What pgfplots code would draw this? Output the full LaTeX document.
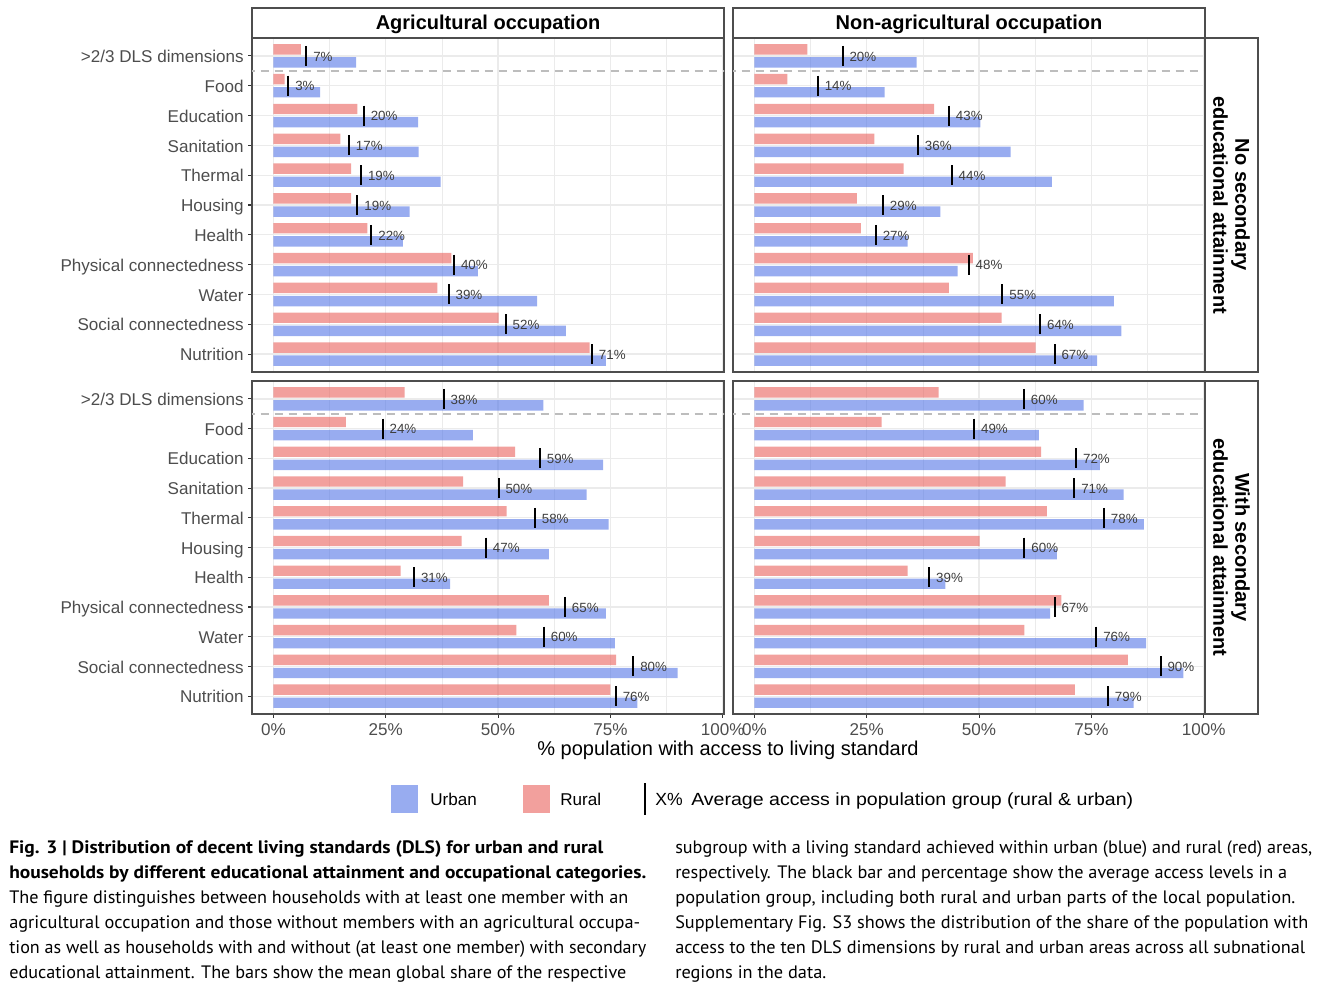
\documentclass[border=0pt]{standalone}
\usepackage{pgfplots}
\pgfplotsset{compat=1.18}
\usepackage{pgfplotstable}
\usepackage{graphicx}
\usepackage{fontspec}
\setmainfont{Liberation Sans}
\newfontfamily\capfont{PT Sans}

\definecolor{ruralc}{HTML}{E9615C}
\definecolor{urbanc}{HTML}{5375E6}
\definecolor{gridc}{HTML}{EBEBEB}
\definecolor{bordc}{HTML}{4D4D4D}
\definecolor{tickc}{HTML}{333333}
\definecolor{axgray}{HTML}{4D4D4D}
\definecolor{labc}{HTML}{3D3D3D}
\definecolor{dashc}{HTML}{BDBDBD}

% y: 1 = >2/3 DLS dimensions ... 11 = Nutrition
% agricultural, no secondary
\pgfplotstableread{
y rural urban avg lab
1 6.1 18.4 7.3 7
2 2.5 10.4 3.3 3
3 18.7 32.2 20.1 20
4 14.9 32.3 16.8 17
5 17.3 37.2 19.5 19
6 17.3 30.3 18.7 19
7 20.9 28.8 21.8 22
8 39.6 45.5 40.2 40
9 36.5 58.7 39.0 39
10 50.1 65.1 51.7 52
11 70.4 74.0 70.9 71
}\tabA
% non-agricultural, no secondary
\pgfplotstableread{
y rural urban avg lab
1 11.8 36.1 19.6 20
2 7.3 29.0 14.1 14
3 40.0 50.3 43.3 43
4 26.7 57.0 36.4 36
5 33.2 66.2 43.9 44
6 22.8 41.4 28.6 29
7 23.7 34.1 27.0 27
8 48.6 45.2 47.7 48
9 43.3 80.0 55.2 55
10 55.0 81.7 63.6 64
11 62.6 76.3 66.8 67
}\tabB
% agricultural, with secondary
\pgfplotstableread{
y rural urban avg lab
1 29.2 60.1 37.9 38
2 16.1 44.4 24.3 24
3 53.8 73.4 59.3 59
4 42.2 69.7 50.1 50
5 51.9 74.6 58.2 58
6 41.9 61.3 47.3 47
7 28.3 39.3 31.3 31
8 61.3 74.0 64.9 65
9 54.1 76.0 60.2 60
10 76.3 90.0 80.1 80
11 75.0 81.0 76.2 76
}\tabC
% non-agricultural, with secondary
\pgfplotstableread{
y rural urban avg lab
1 41.0 73.3 60.0 60
2 28.3 63.3 48.9 49
3 63.8 76.9 71.6 72
4 55.9 82.2 71.2 71
5 65.1 86.7 77.8 78
6 50.1 67.3 60.1 60
7 34.1 42.5 38.9 39
8 68.3 65.8 66.8 67
9 60.1 87.2 76.1 76
10 83.1 95.5 90.4 90
11 71.3 84.4 78.7 79
}\tabD

\pgfplotsset{
  panel/.style={
    scale only axis, width=354pt, anchor=north west,
    xmin=-4.78, xmax=100.3, ymin=0.4, ymax=11.6, y dir=reverse,
    xtick={0,25,50,75,100}, minor xtick={12.5,37.5,62.5,87.5},
    ytick={1,...,11},
    xmajorgrids, xminorgrids, ymajorgrids,
    major grid style={draw=gridc, line width=1pt},
    minor grid style={draw=gridc, line width=0.5pt},
    axis line style={draw=bordc, line width=0.8pt},
    tick align=outside, major tick length=2.75pt, minor tick length=0pt,
    tick style={draw=tickc, line width=0.8pt},
    xtick pos=bottom, ytick pos=left,
    typeset ticklabels with strut,
    tick label style={font=\fontsize{12.8}{14}\selectfont, text=axgray},
    yticklabel style={yshift=-2.2pt},
    xticklabels={0\%,25\%,50\%,75\%,100\%},
    yticklabels={>2/3 DLS dimensions,Food,Education,Sanitation,Thermal,Housing,Health,Physical connectedness,Water,Social connectedness,Nutrition},
  },
  notx/.style={xticklabels={}, xtick style={draw=none}},
  noty/.style={yticklabels={}, ytick style={draw=none}},
}

\newcommand\panelplots[1]{%
  \addplot[xbar, bar width=0.35, bar shift=-0.22, draw=none, fill=ruralc, fill opacity=0.6] table[x=rural, y=y] {#1};
  \addplot[xbar, bar width=0.35, bar shift=0.22, draw=none, fill=urbanc, fill opacity=0.6] table[x=urban, y=y] {#1};
  \addplot[dashc, dash pattern=on 6pt off 4.5pt, line width=1.2pt] coordinates {(-6,1.5) (102,1.5)};
  \addplot[only marks, mark=|, mark size=7.5pt, mark options={draw=black, line width=1.5pt},
    point meta=explicit symbolic, nodes near coords={\pgfplotspointmeta\%},
    every node near coord/.append style={anchor=west, xshift=4.5pt, yshift=-0.5pt, inner sep=0pt,
      font=\fontsize{10}{11}\selectfont, text=labc}]
    table[x=avg, y=y, meta=lab] {#1};
}

\newcommand\capline[4]{%
  \node[anchor=base west, inner sep=0pt] at (#1pt,-#2pt)
    {\capfont\fontsize{13.5}{15}\selectfont\resizebox{#3pt}{\height}{#4}};}

\begin{document}
\begin{tikzpicture}
\path[use as bounding box] (0,0) rectangle (998.25pt,-738.75pt);

\begin{axis}[panel, notx, height=250.5pt, at={(189pt,-28.5pt)}]
\panelplots{\tabA}
\end{axis}
\begin{axis}[panel, notx, noty, height=250.5pt, at={(549.75pt,-28.5pt)}]
\panelplots{\tabB}
\end{axis}
\begin{axis}[panel, height=249.75pt, at={(189pt,-285.75pt)}]
\panelplots{\tabC}
\end{axis}
\begin{axis}[panel, noty, height=249.75pt, at={(549.75pt,-285.75pt)}]
\panelplots{\tabD}
\end{axis}

% facet strips
\draw[bordc, line width=0.8pt, fill=white] (189pt,-6pt) rectangle (543pt,-28.5pt);
\draw[bordc, line width=0.8pt, fill=white] (549.75pt,-6pt) rectangle (903.75pt,-28.5pt);
\node[font=\bfseries\fontsize{15}{18}\selectfont] at (366pt,-18pt) {Agricultural occupation};
\node[font=\bfseries\fontsize{15}{18}\selectfont] at (726.75pt,-18pt) {Non-agricultural occupation};
\draw[bordc, line width=0.8pt, fill=white] (903.75pt,-28.5pt) rectangle (943.5pt,-279pt);
\draw[bordc, line width=0.8pt, fill=white] (903.75pt,-285.75pt) rectangle (943.5pt,-535.5pt);
\node[rotate=-90, align=center, font=\bfseries\fontsize{15}{16.5}\selectfont] at (923.6pt,-153.75pt) {No secondary\\educational attainment};
\node[rotate=-90, align=center, font=\bfseries\fontsize{15}{16.5}\selectfont] at (923.6pt,-410.6pt) {With secondary\\educational attainment};

% axis title
\node[font=\fontsize{15}{18}\selectfont] at (546pt,-562.5pt) {\% population with access to living standard};

% legend
\fill[urbanc, fill opacity=0.6] (293.25pt,-588.75pt) rectangle (313.5pt,-609.75pt);
\node[anchor=base west, inner sep=0pt, font=\fontsize{12.8}{15}\selectfont] at (322.5pt,-603.75pt) {Urban};
\fill[ruralc, fill opacity=0.6] (392.25pt,-588.75pt) rectangle (412.5pt,-609.75pt);
\node[anchor=base west, inner sep=0pt, font=\fontsize{12.8}{15}\selectfont] at (420pt,-603.75pt) {Rural};
\draw[black, line width=1.3pt] (483.75pt,-587.25pt) -- (483.75pt,-611.25pt);
\node[anchor=base west, inner sep=0pt, font=\fontsize{13.2}{15}\selectfont] at (491.25pt,-603.75pt) {X\%};
\node[anchor=base west, inner sep=0pt, font=\fontsize{13.2}{15}\selectfont] at (518.25pt,-603.75pt)
  {\resizebox{331.5pt}{\height}{Average access in population group (rural \& urban)}};

% caption
\capline{6.75}{639.75}{445.5}{\bfseries Fig. 3 | Distribution of decent living standards (DLS) for urban and rural}
\capline{6.75}{658.5}{477.75}{\bfseries households by different educational attainment and occupational categories.}
\capline{6.75}{677.25}{464.25}{The figure distinguishes between households with at least one member with an}
\capline{6.75}{696}{473.25}{agricultural occupation and those without members with an agricultural occupa-}
\capline{6.75}{714.75}{477.75}{tion as well as households with and without (at least one member) with secondary}
\capline{6.75}{733.5}{462.75}{educational attainment. The bars show the mean global share of the respective}
\capline{506.25}{639.75}{477.75}{subgroup with a living standard achieved within urban (blue) and rural (red) areas,}
\capline{506.25}{658.5}{459}{respectively. The black bar and percentage show the average access levels in a}
\capline{506.25}{677.25}{465}{population group, including both rural and urban parts of the local population.}
\capline{506.25}{696}{474.75}{Supplementary Fig. S3 shows the distribution of the share of the population with}
\capline{506.25}{714.75}{472.5}{access to the ten DLS dimensions by rural and urban areas across all subnational}
\capline{506.25}{733.5}{113.25}{regions in the data.}
\end{tikzpicture}
\end{document}
